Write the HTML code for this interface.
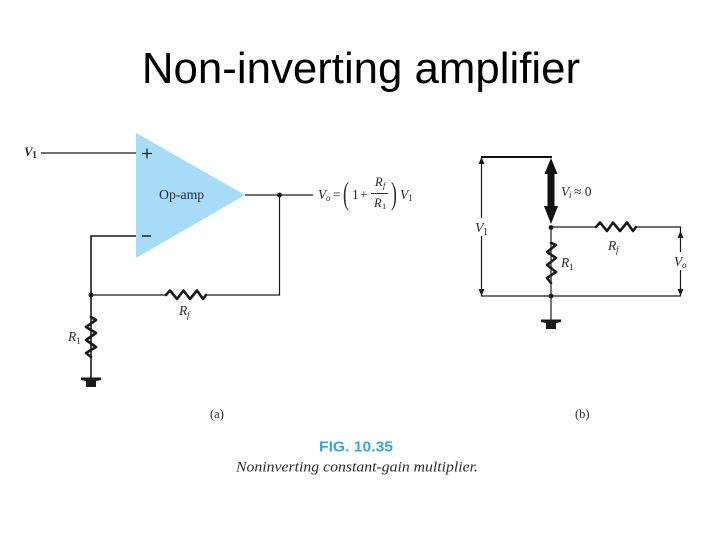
<!DOCTYPE html>
<html>
<head>
<meta charset="utf-8">
<style>
html,body{margin:0;padding:0;background:#fff;}
svg{display:block;}
text{font-family:"Liberation Serif",serif;fill:#2a2a33;}
</style>
</head>
<body>
<svg width="720" height="540" viewBox="0 0 720 540" xmlns="http://www.w3.org/2000/svg">
<text x="361" y="83" text-anchor="middle" style="font-family:'Liberation Sans',sans-serif;fill:#000" font-size="43.800">Non-inverting amplifier</text>

<!-- (a) -->
<polygon points="136,133 245,195 136,258" fill="#a6dcf8"/>
<g fill="none" stroke="#1a1a1a" stroke-width="1.2">
<path d="M41 153H136"/>
<path d="M136 236H91V378" stroke-width="1.6"/>
<path d="M91 295H166M206 295H279.500V195M245 195H313"/>
</g>
<g fill="none" stroke="#1a1a1a" stroke-width="2.600" stroke-linejoin="round" stroke-linecap="round">
<path d="M166 295L170 290.500L177 299L183.500 290.500L190 299L197 290.500L203 299L206 295"/>
<path d="M91 317L96 320L86 327L96 333L86 340L96 347L86 353L91 357"/>
</g>
<circle cx="91" cy="295" r="2.400" fill="#1a1a1a"/>
<circle cx="279.500" cy="195" r="2.400" fill="#1a1a1a"/>
<path d="M81 377.500H101V380L96 381V387H86V381L81 380Z" fill="#1a1a1a"/>
<text x="24" y="156" font-size="13" font-weight="bold" font-style="italic" fill="#2b2440">V</text>
<text x="32" y="158" font-size="10" font-weight="bold">1</text>
<path d="M142 153.500H152M147 148.500V158.500" stroke="#222" stroke-width="1.300"/>
<path d="M142 236H151" stroke="#222" stroke-width="1.500"/>
<text x="159" y="199" font-size="13.800" fill="#223040">Op-amp</text>
<text x="318" y="199" font-size="13.500" font-style="italic" fill="#444">V</text>
<text x="326" y="201" font-size="9" font-style="italic" fill="#444">o</text>
<text x="333" y="199" font-size="13.500" fill="#444">=</text>
<text x="343" y="204" font-size="32" fill="#444" transform="translate(343 0) scale(.55 1) translate(-343 0)">(</text>
<text x="352" y="199" font-size="13.500" fill="#444">1</text>
<text x="360" y="199" font-size="13.500" fill="#444">+</text>
<text x="375" y="186" font-size="12.500" font-style="italic" fill="#333">R</text>
<text x="383" y="188" font-size="8.500" font-style="italic" fill="#333">f</text>
<path d="M371 193.500H388" stroke="#333" stroke-width="1"/>
<text x="374" y="207" font-size="12.500" font-style="italic" fill="#333">R</text>
<text x="382" y="209" font-size="8.500" fill="#333">1</text>
<text x="391" y="204" font-size="32" fill="#333" transform="translate(391 0) scale(.55 1) translate(-391 0)">)</text>
<text x="400" y="199" font-size="13.500" font-style="italic" fill="#444">V</text>
<text x="408" y="201" font-size="9" fill="#444">1</text>
<text x="179" y="315" font-size="13.500" font-style="italic" fill="#444">R</text>
<text x="187" y="318" font-size="9" font-style="italic" fill="#444">f</text>
<text x="68" y="341" font-size="13.500" font-style="italic" fill="#444">R</text>
<text x="76" y="344" font-size="9" fill="#444">1</text>
<text x="210" y="418" font-size="12.500" fill="#333">(a)</text>

<!-- (b) -->
<g fill="none" stroke="#1a1a1a" stroke-width="1.200">
<path d="M481.500 157V296H681M551 227V320M551 227H596M636 227H680.500V296"/>
</g>
<path d="M481 157H552" stroke="#111" stroke-width="2"/>
<g fill="none" stroke="#1a1a1a" stroke-width="2.600" stroke-linejoin="round" stroke-linecap="round">
<path d="M596 227L600 222.500L607 231L613 222.500L620 231L627 222.500L633 231L636 227"/>
<path d="M551 243L556 245L547 252L556 258L547 265L556 272L547 278L551 283"/>
</g>
<path d="M551 158l6.500 16h-3v32h3.500l-7 18-7-18h3.500v-32h-3Z" fill="#111"/>
<g fill="#1a1a1a">
<path d="M481.500 157l3 7h-6Z"/>
<path d="M481.500 296l3-7h-6Z"/>
<path d="M680.500 231l3 7h-6Z"/>
<path d="M680.500 296l3-7h-6Z"/>
<circle cx="551" cy="227.500" r="2.400"/>
<circle cx="551" cy="296" r="2.400"/>
<path d="M541 319.500H561V322L556 323V329H546V323L541 322Z"/>
</g>
<rect x="470" y="218" width="22" height="18" fill="#fff"/>
<rect x="670" y="252" width="22" height="18" fill="#fff"/>
<text x="475" y="232" font-size="14" font-style="italic" fill="#444">V</text>
<text x="483" y="235" font-size="10" fill="#444">1</text>
<text x="561" y="196" font-size="13.500" font-style="italic" fill="#444">V</text>
<text x="569" y="198" font-size="9" font-style="italic" fill="#444">i</text>
<text x="574" y="196" font-size="13.500" fill="#444">≈ 0</text>
<text x="608" y="250" font-size="13.500" font-style="italic" fill="#444">R</text>
<text x="616" y="253" font-size="9" font-style="italic" fill="#444">f</text>
<text x="561" y="267" font-size="13.500" font-style="italic" fill="#444">R</text>
<text x="569" y="270" font-size="9" fill="#444">1</text>
<text x="674" y="266" font-size="13.500" font-style="italic" fill="#444">V</text>
<text x="682" y="268" font-size="9" font-style="italic" fill="#444">o</text>
<text x="575" y="418" font-size="12.500" fill="#333">(b)</text>

<text x="319" y="451.500" font-size="14.500" font-weight="bold" textLength="74" lengthAdjust="spacingAndGlyphs" style="font-family:'Liberation Sans',sans-serif;fill:#36a4dc">FIG. 10.35</text>
<text x="236" y="471.500" font-size="14.500" font-style="italic" textLength="242" lengthAdjust="spacingAndGlyphs" fill="#333">Noninverting constant-gain multiplier.</text>
</svg>
</body>
</html>
